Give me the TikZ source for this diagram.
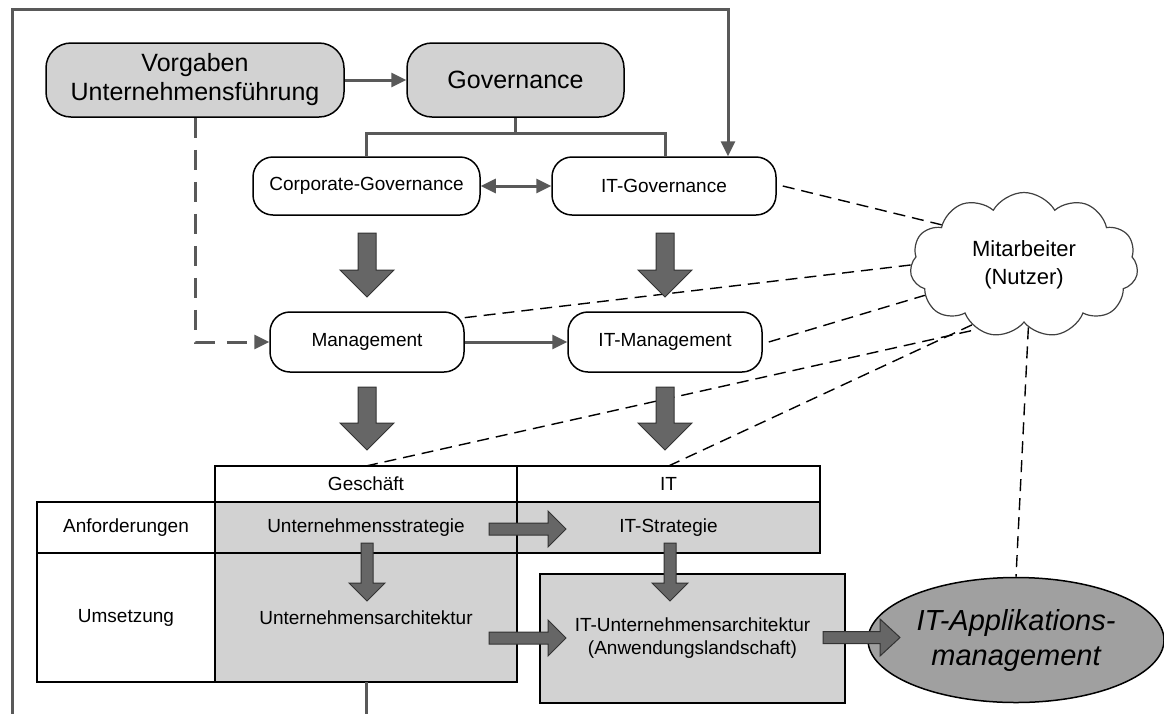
\documentclass[tikz,border=0pt]{standalone}
\usepackage{fontspec}
\setmainfont{Liberation Sans}
\usetikzlibrary{arrows.meta,shapes.geometric,shapes.symbols}

\definecolor{linegray}{HTML}{595959}
\definecolor{boxgray}{HTML}{D2D2D2}
\definecolor{arrowgray}{HTML}{666666}
\definecolor{appgray}{HTML}{A0A0A0}

% block arrow pointing down: x, top, head start, tip, shaft half width, head half width
\newcommand\BlockDown[6]{%
  \filldraw[blockarrow] ({#1-#5},#2) -- ({#1+#5},#2) -- ({#1+#5},#3) -- ({#1+#6},#3)
    -- (#1,#4) -- ({#1-#6},#3) -- ({#1-#5},#3) -- cycle;}
% block arrow pointing right: y, left, head start, tip, shaft half width, head half width
\newcommand\BlockRight[6]{%
  \filldraw[blockarrow] (#2,{#1-#5}) -- (#3,{#1-#5}) -- (#3,{#1-#6}) -- (#4,#1)
    -- (#3,{#1+#6}) -- (#3,{#1+#5}) -- (#2,{#1+#5}) -- cycle;}

\begin{document}
\begin{tikzpicture}[x=1pt,y=-1pt,
  bigbox/.style={draw=black, line width=1.5pt, fill=boxgray, rounded corners=25pt,
    align=center, font=\fontsize{25}{29}\selectfont, inner sep=0pt},
  smallbox/.style={draw=black, line width=1.5pt, fill=white, rounded corners=20pt,
    font=\fontsize{19}{23}\selectfont, inner sep=0pt},
  cell/.style={draw=black, line width=1.8pt, font=\fontsize{19}{23}\selectfont,
    inner sep=0pt, outer sep=0pt, align=center},
  graycell/.style={cell, fill=boxgray},
  link/.style={draw=linegray, line width=3pt},
  conn/.style={link, -{Triangle[length=15pt,width=14pt]}},
  dconn/.style={link, {Triangle[length=15pt,width=14pt]}-{Triangle[length=15pt,width=14pt]}},
  userlink/.style={draw=black, line width=1.4pt, dash pattern=on 12pt off 7pt},
  blockarrow/.style={fill=arrowgray, draw=black!80, line width=1pt}]

\useasboundingbox (0,0) rectangle (1164,713);
\clip (0,0) rectangle (1164,713);

% top level
\node[bigbox, minimum width=298pt, minimum height=74pt] (vorg) at (195,80)
  {Vorgaben\\Unternehmensführung};
\node[bigbox, minimum width=217pt, minimum height=74pt] (gov) at (515.5,80) {Governance};

% governance level
\node[smallbox, minimum width=227pt, minimum height=58pt] (cg) at (366.5,186) {Corporate-Governance};
\node[smallbox, minimum width=224pt, minimum height=58pt] (itg) at (664,186) {IT-Governance};

% management level
\node[smallbox, minimum width=194pt, minimum height=60pt] (mgmt) at (367,342) {Management};
\node[smallbox, minimum width=194pt, minimum height=60pt] (itmgmt) at (665,342) {IT-Management};

% table
\node[cell, minimum width=302pt, minimum height=36pt] (gesch) at (366,484) {Geschäft};
\node[cell, minimum width=303pt, minimum height=36pt] (itcol) at (668.5,484) {IT};
\node[cell, minimum width=178pt, minimum height=51pt] (anf) at (126,527.5) {Anforderungen};
\node[graycell, minimum width=302pt, minimum height=51pt] (ustrat) at (366,527.5) {Unternehmensstrategie};
\node[graycell, minimum width=303pt, minimum height=51pt] (itstrat) at (668.5,527.5) {IT-Strategie};
\node[cell, minimum width=178pt, minimum height=129pt] (ums) at (126,617.5) {Umsetzung};
\node[graycell, minimum width=302pt, minimum height=129pt] (uarch) at (366,617.5) {Unternehmensarchitektur};
\node[graycell, minimum width=305pt, minimum height=129pt] (ituarch) at (692.5,638.5)
  {IT-Unternehmensarchitektur\\(Anwendungslandschaft)};

% application management
\node[ellipse, draw=black, line width=1.5pt, fill=appgray, minimum width=296pt,
  minimum height=125pt, inner sep=0pt, align=center,
  font=\fontsize{29}{35}\selectfont\itshape] (appl) at (1016,640)
  {IT-Applikations-\\management};

% employees
\node[cloud, cloud puffs=11, cloud puff arc=120, aspect=1.6, draw=black!75,
  line width=1.2pt, fill=white, minimum width=228pt, minimum height=145pt,
  align=center, font=\fontsize{22}{28}\selectfont] (cloud) at (1024,265)
  {Mitarbeiter\\(Nutzer)};

% loop frame
\coordinate (fbl) at (12,760);
\coordinate (ftl) at (12,9);
\coordinate (ftr) at (728,9);
\draw[conn] (uarch.south) |- (fbl) -- (ftl) -- (ftr) -- (ftr |- itg.north);

% connectors
\draw[conn] (vorg.east) -- (gov.west);
\draw[link] (gov.south) -- ++(0,16) coordinate (gsplit);
\draw[link] (gsplit) -| (cg.north);
\draw[link] (gsplit) -| ([xshift=1pt]itg.north);
\draw[dconn] (cg.east) -- (itg.west);
\draw[conn] (mgmt.east) -- (itmgmt.west);
\draw[link, dash pattern=on 20pt off 12pt, -{Triangle[length=15pt,width=14pt]}]
  (vorg.south) |- (mgmt.west);

% relations to the employees
\draw[userlink] ([xshift=6pt]itg.east) -- (cloud.154);
\draw[userlink] (mgmt.14) -- (cloud.180);
\draw[userlink] ([xshift=6pt]itmgmt.east) -- (cloud.197);
\draw[userlink] (gesch.north) -- (cloud.234);
\draw[userlink] (itcol.north) -- (cloud.229);
\draw[userlink] (cloud.274) -- (appl.north);

% block arrows
\BlockDown{367}{233}{270}{297}{9}{27}
\BlockDown{665}{233}{270}{297}{9}{27}
\BlockDown{367}{387}{423}{450}{9}{27}
\BlockDown{665}{387}{423}{450}{9}{27}
\BlockRight{529}{489}{548}{566}{6}{18}
\BlockRight{638}{489}{548}{566}{6}{18}
\BlockRight{637.5}{823}{880}{900}{6}{18.5}
\BlockDown{367}{543}{583}{601}{6}{18}
\BlockDown{670}{543}{583}{601}{6}{18}

\end{tikzpicture}
\end{document}
